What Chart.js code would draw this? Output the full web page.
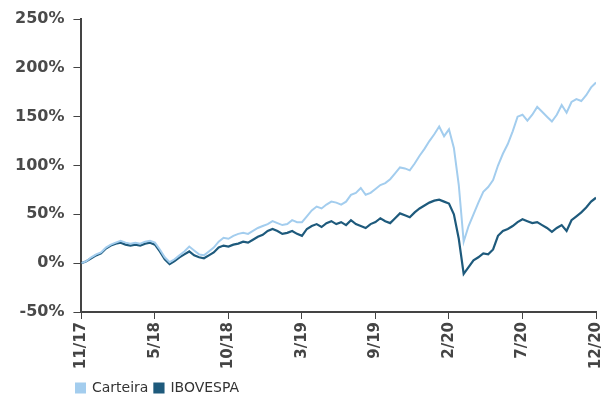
<!DOCTYPE html>
<html>
<head>
<meta charset="utf-8">
<script src="https://cdn.jsdelivr.net/npm/chart.js@4"></script>
<style>
  html, body { margin: 0; padding: 0; background: #fff; }
  #wrap { width: 602px; height: 401px; }
</style>
</head>
<body>
<div id="wrap"><canvas id="chart"></canvas></div>
<script>
// rotulos do eixo x (um a cada 15 pontos)
const tickLabels = ['11/17', '5/18', '10/18', '3/19', '9/19', '2/20', '7/20', '12/20']
const seriesNames = ['Carteira', 'IBOVESPA']

// retorno acumulado (%)
const carteira = [
  0, 2, 6, 9, 11, 16, 19, 21, 23, 21,
  20, 21, 20, 22, 23, 21, 14, 6, 1, 4,
  8, 12, 17, 13, 9, 8, 12, 16, 22, 26,
  25, 28, 30, 31, 30, 33, 36, 38, 40, 43,
  41, 39, 40, 44, 42, 42, 48, 54, 58, 56,
  60, 63, 62, 60, 63, 70, 72, 77, 70, 72,
  76, 80, 82, 86, 92, 98, 97, 95, 102, 110,
  117, 125, 132, 140, 130, 137, 118, 80, 22, 38,
  50, 62, 73, 78, 85, 100, 112, 122, 135, 150,
  152, 146, 152, 160, 155, 150, 145, 152, 162, 154,
  165, 168, 166, 172, 180, 185
]
const ibovespa = [
  0, 2, 5, 8, 10, 15, 18, 20, 21, 19,
  18, 19, 18, 20, 21, 19, 12, 4, -1, 2,
  6, 9, 12, 8, 6, 5, 8, 11, 16, 18,
  17, 19, 20, 22, 21, 24, 27, 29, 33, 35,
  33, 30, 31, 33, 30, 28, 35, 38, 40, 37,
  41, 43, 40, 42, 39, 44, 40, 38, 36, 40,
  42, 46, 43, 41, 46, 51, 49, 47, 52, 56,
  59, 62, 64, 65, 63, 61, 50, 25, -11, -4,
  3, 6, 10, 9, 14, 28, 33, 35, 38, 42,
  45, 43, 41, 42, 39, 36, 32, 36, 39, 33,
  44, 48, 52, 57, 63, 67
]

const toPoints = arr => arr.map((v, i) => ({ x: i, y: v }))

// empurra a legenda para alinhar com o eixo, como no original
const legendShift = {
  id: 'legendShift',
  afterLayout: chart => {
    chart.legend.left = 70
    chart.legend.top += 5
  }
}

const ctx = document.getElementById('chart')
const lineChart = new Chart(ctx, {
  type: 'line',
  data: {
    datasets: [{
      label: seriesNames[0],
      data: toPoints(carteira),
      borderColor: '#a3cdee',
      backgroundColor: '#a3cdee',
      borderWidth: 2,
      pointRadius: 0
    }, {
      label: seriesNames[1],
      data: toPoints(ibovespa),
      borderColor: '#1e5a7c',
      backgroundColor: '#1e5a7c',
      borderWidth: 2.2,
      pointRadius: 0
    }]
  },
  plugins: [legendShift],
  options: {
    responsive: true,
    maintainAspectRatio: false,
    animation: false,
    layout: { padding: { left: 6, right: 0, top: 19, bottom: 1 } },
    plugins: {
      tooltip: { enabled: false },
      legend: {
        position: 'bottom',
        align: 'start',
        labels: {
          boxWidth: 9,
          boxHeight: 9,
          padding: 6,
          color: '#333',
          font: { family: 'DejaVu Sans', size: 14 }
        }
      }
    },
    scales: {
      x: {
        type: 'linear',
        min: 0,
        max: 105,
        grid: { drawOnChartArea: false, tickLength: 7, color: '#444' },
        border: { color: '#444', width: 2 },
        ticks: {
          stepSize: 15,
          minRotation: 90,
          maxRotation: 90,
          padding: 3,
          color: '#444',
          font: { family: 'DejaVu Sans', size: 15, weight: 'bold' },
          callback: v => tickLabels[v / 15]
        },
        afterFit: scale => {
          scale.height = 58
          scale.paddingLeft = 0
          scale.paddingRight = 6
        }
      },
      y: {
        min: -50,
        max: 250,
        grid: { drawOnChartArea: false, tickLength: 8, color: '#444' },
        border: { color: '#444', width: 2 },
        ticks: {
          stepSize: 50,
          padding: 9,
          color: '#4a4a4a',
          font: { family: 'DejaVu Sans', size: 16, weight: 'bold' },
          callback: v => v + '%'
        },
        afterFit: scale => {
          scale.paddingTop = 0
          scale.paddingBottom = 0
        }
      }
    }
  }
})
</script>
</body>
</html>
